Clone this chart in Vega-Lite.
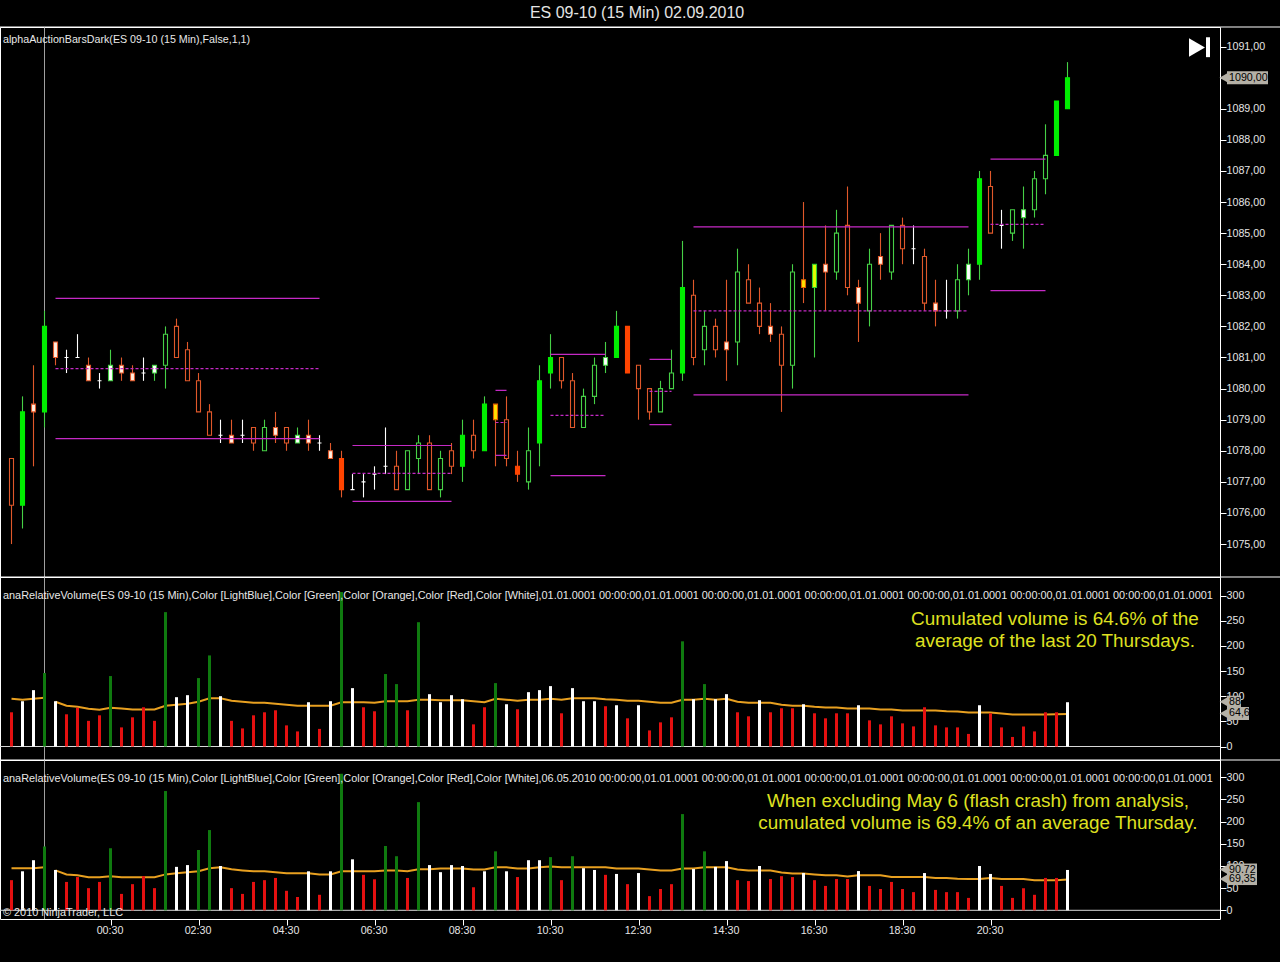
{"$schema":"https://vega.github.io/schema/vega-lite/v6.json","background":"#000000","padding":{"left":-1,"top":5,"right":0,"bottom":26},"title":{"text":"ES 09-10 (15 Min)  02.09.2010","color":"#e4e4e4","font":"Liberation Sans","fontSize":16,"fontWeight":"normal","anchor":"middle","offset":5,"dx":-3},"config":{"view":{"stroke":"#ffffff","strokeWidth":1},"axis":{"grid":false,"domain":false,"tickColor":"#ffffff","labelColor":"#e4e4e4","labelFont":"Liberation Sans","labelFontSize":10.7,"tickSize":6,"labelPadding":0}},"resolve":{"scale":{"color":"independent"}},"datasets":{"bars":[
{"t":"2010-09-01T22:15:00","kind":"r","open":1077.75,"high":1077.75,"low":1075,"close":1076.25,"vol1":68,"color1":"red","avg1":95,"vol2":68,"color2":"red","avg2":95,"session":1},
{"t":"2010-09-01T22:30:00","kind":"G","open":1076.25,"high":1079.75,"low":1075.5,"close":1079.25,"vol1":90,"color1":"white","avg1":93,"vol2":88,"color2":"white","avg2":95,"session":1},
{"t":"2010-09-01T22:45:00","kind":"o","open":1079.5,"high":1080.75,"low":1077.5,"close":1079.25,"vol1":112,"color1":"white","avg1":95,"vol2":113,"color2":"white","avg2":95,"session":1},
{"t":"2010-09-01T23:00:00","kind":"G","open":1079.25,"high":1082.5,"low":1078.75,"close":1082,"vol1":146,"color1":"green","avg1":97,"vol2":144,"color2":"green","avg2":97,"session":1},
{"t":"2010-09-01T23:15:00","kind":"o","open":1081.5,"high":1081.5,"low":1080.75,"close":1081,"vol1":90,"color1":"white","avg1":89,"vol2":91,"color2":"white","avg2":90,"session":2},
{"t":"2010-09-01T23:30:00","kind":"d","open":1081,"high":1081.25,"low":1080.5,"close":1081,"vol1":64,"color1":"red","avg1":81,"vol2":64,"color2":"red","avg2":81,"session":2},
{"t":"2010-09-01T23:45:00","kind":"d","open":1081,"high":1081.75,"low":1081,"close":1081,"vol1":77,"color1":"red","avg1":79,"vol2":75,"color2":"red","avg2":79,"session":2},
{"t":"2010-09-02T00:00:00","kind":"o","open":1080.75,"high":1081,"low":1080.25,"close":1080.25,"vol1":51,"color1":"red","avg1":75,"vol2":50,"color2":"red","avg2":74.5,"session":2},
{"t":"2010-09-02T00:15:00","kind":"d","open":1080.25,"high":1080.5,"low":1080,"close":1080.25,"vol1":62,"color1":"red","avg1":73,"vol2":64,"color2":"red","avg2":74.5,"session":2},
{"t":"2010-09-02T00:30:00","kind":"w","open":1080.25,"high":1081.25,"low":1080.25,"close":1080.75,"vol1":140,"color1":"green","avg1":77,"vol2":140,"color2":"green","avg2":77,"session":2},
{"t":"2010-09-02T00:45:00","kind":"o","open":1080.75,"high":1081,"low":1080.25,"close":1080.5,"vol1":38,"color1":"red","avg1":75.5,"vol2":37,"color2":"red","avg2":74.5,"session":2},
{"t":"2010-09-02T01:00:00","kind":"o","open":1080.5,"high":1080.75,"low":1080.25,"close":1080.25,"vol1":58,"color1":"red","avg1":73.5,"vol2":59,"color2":"red","avg2":74.5,"session":2},
{"t":"2010-09-02T01:15:00","kind":"d","open":1080.5,"high":1081,"low":1080.25,"close":1080.5,"vol1":78,"color1":"red","avg1":73.5,"vol2":77,"color2":"red","avg2":74.5,"session":2},
{"t":"2010-09-02T01:30:00","kind":"w","open":1080.5,"high":1080.75,"low":1080.25,"close":1080.75,"vol1":51,"color1":"red","avg1":73.5,"vol2":50,"color2":"red","avg2":74.5,"session":2},
{"t":"2010-09-02T01:45:00","kind":"g","open":1080.75,"high":1082,"low":1080,"close":1081.75,"vol1":267,"color1":"green","avg1":81,"vol2":269,"color2":"green","avg2":81,"session":2},
{"t":"2010-09-02T02:00:00","kind":"r","open":1082,"high":1082.25,"low":1081,"close":1081,"vol1":98,"color1":"white","avg1":83,"vol2":98,"color2":"white","avg2":83.5,"session":2},
{"t":"2010-09-02T02:15:00","kind":"r","open":1081.25,"high":1081.5,"low":1080.25,"close":1080.25,"vol1":102,"color1":"white","avg1":85,"vol2":102,"color2":"white","avg2":86,"session":2},
{"t":"2010-09-02T02:30:00","kind":"r","open":1080.25,"high":1080.5,"low":1079.25,"close":1079.25,"vol1":136,"color1":"green","avg1":89,"vol2":136,"color2":"green","avg2":88,"session":2},
{"t":"2010-09-02T02:45:00","kind":"r","open":1079.25,"high":1079.5,"low":1078.5,"close":1078.5,"vol1":181,"color1":"green","avg1":96,"vol2":181,"color2":"green","avg2":95,"session":2},
{"t":"2010-09-02T03:00:00","kind":"d","open":1078.5,"high":1079,"low":1078.25,"close":1078.5,"vol1":100,"color1":"white","avg1":96,"vol2":100,"color2":"white","avg2":97,"session":2},
{"t":"2010-09-02T03:15:00","kind":"o","open":1078.5,"high":1079,"low":1078.25,"close":1078.25,"vol1":51,"color1":"red","avg1":91,"vol2":50,"color2":"red","avg2":92.5,"session":2},
{"t":"2010-09-02T03:30:00","kind":"d","open":1078.5,"high":1079,"low":1078.25,"close":1078.5,"vol1":36,"color1":"red","avg1":89,"vol2":37,"color2":"red","avg2":90,"session":2},
{"t":"2010-09-02T03:45:00","kind":"r","open":1078.75,"high":1078.75,"low":1078,"close":1078.25,"vol1":62,"color1":"red","avg1":87,"vol2":64,"color2":"red","avg2":88,"session":2},
{"t":"2010-09-02T04:00:00","kind":"g","open":1078,"high":1079,"low":1078,"close":1078.75,"vol1":68,"color1":"red","avg1":87,"vol2":68,"color2":"red","avg2":88,"session":2},
{"t":"2010-09-02T04:15:00","kind":"o","open":1078.75,"high":1079.25,"low":1078.25,"close":1078.5,"vol1":72,"color1":"red","avg1":85,"vol2":73,"color2":"red","avg2":86,"session":2},
{"t":"2010-09-02T04:30:00","kind":"r","open":1078.75,"high":1078.75,"low":1078,"close":1078.25,"vol1":42,"color1":"red","avg1":83,"vol2":44,"color2":"red","avg2":83.5,"session":2},
{"t":"2010-09-02T04:45:00","kind":"w","open":1078.25,"high":1078.75,"low":1078.25,"close":1078.5,"vol1":30,"color1":"red","avg1":81,"vol2":30,"color2":"red","avg2":83.5,"session":2},
{"t":"2010-09-02T05:00:00","kind":"o","open":1078.5,"high":1079,"low":1078,"close":1078.25,"vol1":88,"color1":"white","avg1":81,"vol2":88,"color2":"white","avg2":83.5,"session":2},
{"t":"2010-09-02T05:15:00","kind":"d","open":1078.25,"high":1078.5,"low":1078,"close":1078.25,"vol1":35,"color1":"red","avg1":81,"vol2":35,"color2":"red","avg2":81,"session":2},
{"t":"2010-09-02T05:30:00","kind":"o","open":1078,"high":1078.25,"low":1077.75,"close":1077.75,"vol1":90,"color1":"white","avg1":81,"vol2":88,"color2":"white","avg2":81,"session":2},
{"t":"2010-09-02T05:45:00","kind":"R","open":1077.75,"high":1078,"low":1076.5,"close":1076.75,"vol1":307,"color1":"green","avg1":88,"vol2":308,"color2":"green","avg2":88,"session":2},
{"t":"2010-09-02T06:00:00","kind":"d","open":1076.75,"high":1077.25,"low":1076.75,"close":1076.75,"vol1":116,"color1":"white","avg1":88,"vol2":115,"color2":"white","avg2":88,"session":2},
{"t":"2010-09-02T06:15:00","kind":"d","open":1077,"high":1077.25,"low":1076.5,"close":1077,"vol1":78,"color1":"red","avg1":88,"vol2":80,"color2":"red","avg2":88,"session":2},
{"t":"2010-09-02T06:30:00","kind":"d","open":1077.25,"high":1077.5,"low":1076.75,"close":1077.25,"vol1":70,"color1":"red","avg1":87,"vol2":70,"color2":"red","avg2":88,"session":2},
{"t":"2010-09-02T06:45:00","kind":"d","open":1077.5,"high":1078.75,"low":1077.25,"close":1077.5,"vol1":144,"color1":"green","avg1":90,"vol2":145,"color2":"green","avg2":90,"session":2},
{"t":"2010-09-02T07:00:00","kind":"r","open":1077.5,"high":1078,"low":1076.75,"close":1076.75,"vol1":124,"color1":"green","avg1":90,"vol2":122,"color2":"green","avg2":90,"session":2},
{"t":"2010-09-02T07:15:00","kind":"g","open":1076.75,"high":1078,"low":1076.75,"close":1078,"vol1":72,"color1":"red","avg1":90,"vol2":73,"color2":"red","avg2":88,"session":2},
{"t":"2010-09-02T07:30:00","kind":"g","open":1077.75,"high":1078.5,"low":1077.25,"close":1078.25,"vol1":247,"color1":"green","avg1":93,"vol2":244,"color2":"green","avg2":92.5,"session":2},
{"t":"2010-09-02T07:45:00","kind":"r","open":1078.25,"high":1078.5,"low":1076.75,"close":1076.75,"vol1":104,"color1":"white","avg1":93,"vol2":102,"color2":"white","avg2":92.5,"session":2},
{"t":"2010-09-02T08:00:00","kind":"g","open":1076.75,"high":1078,"low":1076.5,"close":1077.75,"vol1":88,"color1":"white","avg1":92,"vol2":86,"color2":"white","avg2":94.5,"session":2},
{"t":"2010-09-02T08:15:00","kind":"r","open":1078,"high":1078.25,"low":1077.25,"close":1077.5,"vol1":102,"color1":"white","avg1":92,"vol2":102,"color2":"white","avg2":94.5,"session":2},
{"t":"2010-09-02T08:30:00","kind":"G","open":1077.5,"high":1079,"low":1077,"close":1078.5,"vol1":94,"color1":"white","avg1":92,"vol2":100,"color2":"white","avg2":94.5,"session":2},
{"t":"2010-09-02T08:45:00","kind":"r","open":1078.5,"high":1079,"low":1077.75,"close":1078,"vol1":44,"color1":"red","avg1":90,"vol2":52,"color2":"red","avg2":92,"session":2},
{"t":"2010-09-02T09:00:00","kind":"G","open":1078,"high":1079.75,"low":1078,"close":1079.5,"vol1":78,"color1":"red","avg1":88,"vol2":88,"color2":"white","avg2":92,"session":2},
{"t":"2010-09-02T09:15:00","kind":"Y","open":1079.5,"high":1079.5,"low":1077.5,"close":1079,"vol1":126,"color1":"green","avg1":95,"vol2":133,"color2":"green","avg2":97,"session":2},
{"t":"2010-09-02T09:30:00","kind":"r","open":1079,"high":1079.75,"low":1077.5,"close":1077.75,"vol1":84,"color1":"white","avg1":93,"vol2":88,"color2":"white","avg2":97,"session":2},
{"t":"2010-09-02T09:45:00","kind":"R","open":1077.5,"high":1078,"low":1077,"close":1077.25,"vol1":74,"color1":"red","avg1":91,"vol2":75,"color2":"red","avg2":94.5,"session":2},
{"t":"2010-09-02T10:00:00","kind":"g","open":1077,"high":1078.75,"low":1076.75,"close":1078,"vol1":108,"color1":"white","avg1":93,"vol2":113,"color2":"white","avg2":94.5,"session":2},
{"t":"2010-09-02T10:15:00","kind":"G","open":1078.25,"high":1080.75,"low":1077.5,"close":1080.25,"vol1":112,"color1":"white","avg1":93,"vol2":113,"color2":"white","avg2":97,"session":2},
{"t":"2010-09-02T10:30:00","kind":"G","open":1080.5,"high":1081.75,"low":1080,"close":1081,"vol1":120,"color1":"white","avg1":95,"vol2":120,"color2":"green","avg2":99,"session":2},
{"t":"2010-09-02T10:45:00","kind":"r","open":1081,"high":1081,"low":1080,"close":1080.25,"vol1":66,"color1":"red","avg1":93,"vol2":68,"color2":"red","avg2":97,"session":2},
{"t":"2010-09-02T11:00:00","kind":"r","open":1080.25,"high":1080.5,"low":1078.75,"close":1078.75,"vol1":116,"color1":"white","avg1":96,"vol2":122,"color2":"green","avg2":97,"session":2},
{"t":"2010-09-02T11:15:00","kind":"g","open":1078.75,"high":1080,"low":1078.75,"close":1079.75,"vol1":90,"color1":"white","avg1":96,"vol2":95,"color2":"white","avg2":97,"session":2},
{"t":"2010-09-02T11:30:00","kind":"g","open":1079.75,"high":1081,"low":1079.5,"close":1080.75,"vol1":90,"color1":"white","avg1":96,"vol2":91,"color2":"white","avg2":97,"session":2},
{"t":"2010-09-02T11:45:00","kind":"w","open":1080.75,"high":1081.5,"low":1080.5,"close":1081,"vol1":80,"color1":"red","avg1":94,"vol2":80,"color2":"red","avg2":97,"session":2},
{"t":"2010-09-02T12:00:00","kind":"G","open":1081,"high":1082.5,"low":1081,"close":1082,"vol1":82,"color1":"white","avg1":93,"vol2":82,"color2":"white","avg2":94.5,"session":2},
{"t":"2010-09-02T12:15:00","kind":"R","open":1082,"high":1082,"low":1080.5,"close":1080.5,"vol1":56,"color1":"red","avg1":91,"vol2":59,"color2":"red","avg2":94.5,"session":2},
{"t":"2010-09-02T12:30:00","kind":"r","open":1080.75,"high":1080.75,"low":1079,"close":1080,"vol1":82,"color1":"white","avg1":91,"vol2":84,"color2":"white","avg2":94.5,"session":2},
{"t":"2010-09-02T12:45:00","kind":"r","open":1080,"high":1080,"low":1079,"close":1079.25,"vol1":32,"color1":"red","avg1":89,"vol2":32,"color2":"red","avg2":92,"session":2},
{"t":"2010-09-02T13:00:00","kind":"g","open":1079.25,"high":1080.25,"low":1079.25,"close":1080,"vol1":48,"color1":"red","avg1":87,"vol2":48,"color2":"red","avg2":90,"session":2},
{"t":"2010-09-02T13:15:00","kind":"g","open":1080,"high":1081.25,"low":1080,"close":1080.5,"vol1":58,"color1":"red","avg1":87,"vol2":59,"color2":"red","avg2":90,"session":2},
{"t":"2010-09-02T13:30:00","kind":"G","open":1080.5,"high":1084.75,"low":1080.25,"close":1083.25,"vol1":209,"color1":"green","avg1":93,"vol2":217,"color2":"green","avg2":94.5,"session":2},
{"t":"2010-09-02T13:45:00","kind":"r","open":1083,"high":1083.5,"low":1080.75,"close":1081,"vol1":94,"color1":"white","avg1":93,"vol2":93,"color2":"white","avg2":94.5,"session":2},
{"t":"2010-09-02T14:00:00","kind":"g","open":1081.25,"high":1082.5,"low":1080.75,"close":1082,"vol1":124,"color1":"green","avg1":95,"vol2":133,"color2":"green","avg2":97,"session":2},
{"t":"2010-09-02T14:15:00","kind":"r","open":1082,"high":1082.25,"low":1081,"close":1081.25,"vol1":94,"color1":"white","avg1":93,"vol2":98,"color2":"white","avg2":97,"session":2},
{"t":"2010-09-02T14:30:00","kind":"o","open":1081.5,"high":1083.5,"low":1080.25,"close":1081.25,"vol1":104,"color1":"white","avg1":95,"vol2":111,"color2":"white","avg2":97,"session":2},
{"t":"2010-09-02T14:45:00","kind":"g","open":1081.5,"high":1084.5,"low":1080.75,"close":1083.75,"vol1":68,"color1":"red","avg1":89,"vol2":68,"color2":"red","avg2":92,"session":2},
{"t":"2010-09-02T15:00:00","kind":"r","open":1083.5,"high":1084,"low":1082.75,"close":1082.75,"vol1":60,"color1":"red","avg1":87,"vol2":66,"color2":"red","avg2":90,"session":2},
{"t":"2010-09-02T15:15:00","kind":"r","open":1082.75,"high":1083.25,"low":1081.75,"close":1082,"vol1":92,"color1":"white","avg1":87,"vol2":100,"color2":"white","avg2":90,"session":2},
{"t":"2010-09-02T15:30:00","kind":"o","open":1082,"high":1082.75,"low":1081.5,"close":1081.75,"vol1":68,"color1":"red","avg1":87,"vol2":70.5,"color2":"red","avg2":90,"session":2},
{"t":"2010-09-02T15:45:00","kind":"r","open":1081.75,"high":1082,"low":1079.25,"close":1080.75,"vol1":76,"color1":"red","avg1":83,"vol2":77,"color2":"red","avg2":85.5,"session":2},
{"t":"2010-09-02T16:00:00","kind":"g","open":1080.75,"high":1084,"low":1080,"close":1083.75,"vol1":76,"color1":"red","avg1":81,"vol2":75,"color2":"red","avg2":83,"session":2},
{"t":"2010-09-02T16:15:00","kind":"Y","open":1083.5,"high":1086,"low":1082.75,"close":1083.25,"vol1":84,"color1":"white","avg1":81,"vol2":84,"color2":"white","avg2":83,"session":2},
{"t":"2010-09-02T16:30:00","kind":"L","open":1083.25,"high":1084,"low":1081,"close":1084,"vol1":66,"color1":"red","avg1":79,"vol2":68,"color2":"red","avg2":81,"session":2},
{"t":"2010-09-02T16:45:00","kind":"o","open":1084,"high":1085.25,"low":1082.5,"close":1083.75,"vol1":56,"color1":"red","avg1":77.5,"vol2":55,"color2":"red","avg2":79,"session":2},
{"t":"2010-09-02T17:00:00","kind":"g","open":1083.75,"high":1085.75,"low":1083.5,"close":1085,"vol1":66,"color1":"red","avg1":77.5,"vol2":70.5,"color2":"red","avg2":79,"session":2},
{"t":"2010-09-02T17:15:00","kind":"r","open":1085.25,"high":1086.5,"low":1083,"close":1083.25,"vol1":66,"color1":"red","avg1":75.5,"vol2":70.5,"color2":"red","avg2":76.5,"session":2},
{"t":"2010-09-02T17:30:00","kind":"o","open":1083.25,"high":1083.5,"low":1081.5,"close":1082.75,"vol1":82,"color1":"white","avg1":75.5,"vol2":88.5,"color2":"white","avg2":79,"session":2},
{"t":"2010-09-02T17:45:00","kind":"g","open":1082.5,"high":1084.5,"low":1082,"close":1084,"vol1":52,"color1":"red","avg1":75.5,"vol2":55,"color2":"red","avg2":79,"session":2},
{"t":"2010-09-02T18:00:00","kind":"o","open":1084.25,"high":1085,"low":1083.5,"close":1084,"vol1":44,"color1":"red","avg1":73.5,"vol2":48,"color2":"red","avg2":79,"session":2},
{"t":"2010-09-02T18:15:00","kind":"g","open":1083.75,"high":1085.25,"low":1083.5,"close":1085.25,"vol1":60,"color1":"red","avg1":73.5,"vol2":64,"color2":"red","avg2":75,"session":2},
{"t":"2010-09-02T18:30:00","kind":"r","open":1085.25,"high":1085.5,"low":1084,"close":1084.5,"vol1":46,"color1":"red","avg1":71.5,"vol2":48,"color2":"red","avg2":75,"session":2},
{"t":"2010-09-02T18:45:00","kind":"d","open":1084.5,"high":1085.25,"low":1084,"close":1084.5,"vol1":40,"color1":"red","avg1":71.5,"vol2":41,"color2":"red","avg2":75,"session":2},
{"t":"2010-09-02T19:00:00","kind":"r","open":1084.25,"high":1084.5,"low":1082.5,"close":1082.75,"vol1":78,"color1":"red","avg1":71.5,"vol2":84,"color2":"white","avg2":75,"session":2},
{"t":"2010-09-02T19:15:00","kind":"o","open":1082.75,"high":1083.5,"low":1082,"close":1082.5,"vol1":42,"color1":"red","avg1":71.5,"vol2":46,"color2":"red","avg2":73,"session":2},
{"t":"2010-09-02T19:30:00","kind":"d","open":1082.5,"high":1083.5,"low":1082.25,"close":1082.5,"vol1":38,"color1":"red","avg1":70,"vol2":41,"color2":"red","avg2":73,"session":2},
{"t":"2010-09-02T19:45:00","kind":"g","open":1082.5,"high":1084,"low":1082.25,"close":1083.5,"vol1":38,"color1":"red","avg1":69.5,"vol2":41,"color2":"red","avg2":71,"session":2},
{"t":"2010-09-02T20:00:00","kind":"w","open":1083.5,"high":1084.5,"low":1083,"close":1084,"vol1":25,"color1":"red","avg1":67.5,"vol2":28,"color2":"red","avg2":70.5,"session":2},
{"t":"2010-09-02T20:15:00","kind":"G","open":1084,"high":1087,"low":1083.5,"close":1086.75,"vol1":82,"color1":"white","avg1":67.5,"vol2":100,"color2":"white","avg2":70.5,"session":2},
{"t":"2010-09-02T20:30:00","kind":"r","open":1086.5,"high":1087,"low":1085,"close":1085,"vol1":66,"color1":"red","avg1":67.5,"vol2":82,"color2":"white","avg2":73,"session":2},
{"t":"2010-09-02T20:45:00","kind":"d","open":1085.25,"high":1085.75,"low":1084.5,"close":1085.25,"vol1":38,"color1":"red","avg1":65.5,"vol2":55,"color2":"red","avg2":70.5,"session":2},
{"t":"2010-09-02T21:00:00","kind":"g","open":1085,"high":1085.75,"low":1084.75,"close":1085.75,"vol1":19,"color1":"red","avg1":63.5,"vol2":28,"color2":"red","avg2":70.5,"session":2},
{"t":"2010-09-02T21:15:00","kind":"w","open":1085.5,"high":1086.5,"low":1084.5,"close":1085.75,"vol1":40,"color1":"red","avg1":63.5,"vol2":50,"color2":"red","avg2":70.5,"session":2},
{"t":"2010-09-02T21:30:00","kind":"g","open":1085.75,"high":1087,"low":1085.5,"close":1086.75,"vol1":30,"color1":"red","avg1":63.5,"vol2":35,"color2":"red","avg2":68,"session":2},
{"t":"2010-09-02T21:45:00","kind":"g","open":1086.75,"high":1088.5,"low":1086.25,"close":1087.5,"vol1":68,"color1":"red","avg1":63.5,"vol2":73,"color2":"red","avg2":68,"session":2},
{"t":"2010-09-02T22:00:00","kind":"G","open":1087.5,"high":1089.25,"low":1087.5,"close":1089.25,"vol1":68,"color1":"red","avg1":64,"vol2":73,"color2":"red","avg2":68,"session":2},
{"t":"2010-09-02T22:15:00","kind":"G","open":1089,"high":1090.5,"low":1089,"close":1090,"vol1":88,"color1":"white","avg1":64.6,"vol2":91,"color2":"white","avg2":69.35,"session":2}
],"levels":[
{"start":"2010-09-01T23:15:00","end":"2010-09-02T05:15:00","price":1082.9,"level":"edge"},
{"start":"2010-09-01T23:15:00","end":"2010-09-02T05:15:00","price":1080.64,"level":"mid"},
{"start":"2010-09-01T23:15:00","end":"2010-09-02T05:15:00","price":1078.39,"level":"edge"},
{"start":"2010-09-02T06:00:00","end":"2010-09-02T08:15:00","price":1078.17,"level":"edge"},
{"start":"2010-09-02T06:00:00","end":"2010-09-02T08:15:00","price":1077.27,"level":"mid"},
{"start":"2010-09-02T06:00:00","end":"2010-09-02T08:15:00","price":1076.37,"level":"edge"},
{"start":"2010-09-02T09:15:00","end":"2010-09-02T09:30:00","price":1079.94,"level":"edge"},
{"start":"2010-09-02T09:15:00","end":"2010-09-02T09:30:00","price":1078.91,"level":"mid"},
{"start":"2010-09-02T09:15:00","end":"2010-09-02T09:30:00","price":1077.85,"level":"edge"},
{"start":"2010-09-02T10:30:00","end":"2010-09-02T11:45:00","price":1081.1,"level":"edge"},
{"start":"2010-09-02T10:30:00","end":"2010-09-02T11:45:00","price":1079.14,"level":"mid"},
{"start":"2010-09-02T10:30:00","end":"2010-09-02T11:45:00","price":1077.2,"level":"edge"},
{"start":"2010-09-02T12:45:00","end":"2010-09-02T13:15:00","price":1080.94,"level":"edge"},
{"start":"2010-09-02T12:45:00","end":"2010-09-02T13:15:00","price":1079.91,"level":"mid"},
{"start":"2010-09-02T12:45:00","end":"2010-09-02T13:15:00","price":1078.84,"level":"edge"},
{"start":"2010-09-02T13:45:00","end":"2010-09-02T20:00:00","price":1085.2,"level":"edge"},
{"start":"2010-09-02T13:45:00","end":"2010-09-02T20:00:00","price":1082.5,"level":"mid"},
{"start":"2010-09-02T13:45:00","end":"2010-09-02T20:00:00","price":1079.8,"level":"edge"},
{"start":"2010-09-02T20:30:00","end":"2010-09-02T21:45:00","price":1087.38,"level":"edge"},
{"start":"2010-09-02T20:30:00","end":"2010-09-02T21:45:00","price":1085.28,"level":"mid"},
{"start":"2010-09-02T20:30:00","end":"2010-09-02T21:45:00","price":1083.15,"level":"edge"}
],"cursor":[{"t":"2010-09-01T23:00:00"}]},
"spacing":0,"bounds":"flush","vconcat":[
{"width":1220,"height":550,"layer":[
{"data":{"name":"cursor"},"mark":{"type":"rule","color":"#a0a0a0"},"encoding":{"x":{"field":"t","type":"temporal","axis":null,"scale":{"domain":["2010-09-01T21:59:19","2010-09-03T01:42:57"],"nice":false,"padding":0}}}},
{"data":{"values":[{"a":"2010-09-01T21:59:19","b":"2010-09-03T03:05:00","v":1091.63}]},"mark":{"type":"rule","color":"#ffffff"},"encoding":{"x":{"field":"a","type":"temporal","axis":null},"x2":{"field":"b"},"y":{"field":"v","type":"quantitative","axis":{"orient":"right","title":null,"labelOverlap":false,"tickCount":20,"values":[1075,1076,1077,1078,1079,1080,1081,1082,1083,1084,1085,1086,1087,1088,1089,1090,1091],"labelExpr":"replace(format(datum.value,'.2f'),'.',',')"},"scale":{"domain":[1073.94,1091.63],"nice":false,"zero":false}}}},
{"data":{"name":"bars"},"mark":{"type":"rule","strokeWidth":1.1},"encoding":{"x":{"field":"t","type":"temporal","axis":null},"y":{"field":"low","type":"quantitative"},"y2":{"field":"high"},"color":{"field":"kind","type":"nominal","legend":null,"scale":{"domain":["G","g","w","R","r","o","Y","L","d"],"range":["#46d046","#46d046","#46d046","#e0582a","#e0582a","#e0582a","#e0582a","#46d046","#ffffff"]}}}},
{"data":{"name":"bars"},"mark":{"type":"bar","size":4,"strokeWidth":1.1},"encoding":{"x":{"field":"t","type":"temporal","axis":null},"y":{"field":"open","type":"quantitative"},"y2":{"field":"close"},"fill":{"field":"kind","type":"nominal","legend":null,"scale":{"domain":["G","g","w","R","r","o","Y","L","d"],"range":["#00ee00","#000000","#ffffff","#ff4500","#000000","#fff0e0","#ffe000","#e0ff00","#ffffff"]}},"stroke":{"field":"kind","type":"nominal","legend":null,"scale":{"domain":["G","g","w","R","r","o","Y","L","d"],"range":["#00ee00","#46d046","#46d046","#ff4500","#e0582a","#e0582a","#e06000","#30d030","#ffffff"]}}}},
{"data":{"name":"levels"},"mark":{"type":"rule","color":"#c52ac5","strokeWidth":1.2},"encoding":{"x":{"field":"start","type":"temporal","axis":null},"x2":{"field":"end"},"y":{"field":"price","type":"quantitative"},"strokeDash":{"field":"level","type":"nominal","legend":null,"scale":{"domain":["edge","mid"],"range":[[1,0],[3,2]]}}}},
{"data":{"values":[{"t":"2010-09-01T22:03:24","v":1091.2,"label":"alphaAuctionBarsDark(ES 09-10 (15 Min),False,1,1)"}]},"mark":{"type":"text","align":"left","baseline":"middle","font":"Liberation Sans","fontSize":10.7,"color":"#e8e8e8"},"encoding":{"x":{"field":"t","type":"temporal","axis":null},"y":{"field":"v","type":"quantitative"},"text":{"field":"label"}}},
{"data":{"values":[{"a":"2010-09-03T01:52:30","b":"2010-09-03T02:48:24","tip":"2010-09-03T01:48:26","v":1090,"label":"1090,00"}]},"layer":[
{"mark":{"type":"rule","color":"#b4b0a6","strokeWidth":13},"encoding":{"x":{"field":"a","type":"temporal","axis":null},"x2":{"field":"b"},"y":{"field":"v","type":"quantitative"}}},
{"mark":{"type":"point","shape":"triangle-left","filled":true,"size":110,"opacity":1,"color":"#b4b0a6"},"encoding":{"x":{"field":"tip","type":"temporal","axis":null},"y":{"field":"v","type":"quantitative"}}},
{"mark":{"type":"text","align":"left","dx":2,"baseline":"middle","font":"Liberation Sans","fontSize":10.7,"color":"#000000"},"encoding":{"x":{"field":"a","type":"temporal","axis":null},"y":{"field":"v","type":"quantitative"},"text":{"field":"label"}}}]},
{"data":{"values":[{"t":"2010-09-03T01:11:33","v":1090.97}]},"mark":{"type":"point","shape":"triangle-right","filled":true,"size":340,"opacity":1,"color":"#ffffff"},"encoding":{"x":{"field":"t","type":"temporal","axis":null},"y":{"field":"v","type":"quantitative"}}},
{"data":{"values":[{"t":"2010-09-03T01:26:36","lo":1090.66,"hi":1091.3}]},"mark":{"type":"rule","color":"#ffffff","strokeWidth":4},"encoding":{"x":{"field":"t","type":"temporal","axis":null},"y":{"field":"lo","type":"quantitative"},"y2":{"field":"hi"}}}
]},
{"width":1220,"height":183,"layer":[
{"data":{"name":"cursor"},"mark":{"type":"rule","color":"#a0a0a0"},"encoding":{"x":{"field":"t","type":"temporal","axis":null,"scale":{"domain":["2010-09-01T21:59:19","2010-09-03T01:42:57"],"nice":false,"padding":0}}}},
{"data":{"values":[{"a":"2010-09-01T21:59:19","b":"2010-09-03T03:05:00","v":336.8}]},"mark":{"type":"rule","color":"#ffffff"},"encoding":{"x":{"field":"a","type":"temporal","axis":null},"x2":{"field":"b"},"y":{"field":"v","type":"quantitative","axis":{"orient":"right","title":null,"labelOverlap":false,"tickCount":10,"values":[0,50,100,150,200,250,300]},"scale":{"domain":[-26.8,336.8],"nice":false}}}},
{"data":{"values":[{"a":"2010-09-01T21:59:19","b":"2010-09-03T01:42:57","v":0}]},"mark":{"type":"rule","color":"#d8d8d8"},"encoding":{"x":{"field":"a","type":"temporal","axis":null},"x2":{"field":"b"},"y":{"field":"v","type":"quantitative"}}},
{"data":{"name":"bars"},"mark":{"type":"line","color":"#e8a020","strokeWidth":2},"encoding":{"x":{"field":"t","type":"temporal","axis":null},"y":{"field":"avg1","type":"quantitative"},"detail":{"field":"session"}}},
{"data":{"name":"bars"},"mark":{"type":"bar","size":3},"encoding":{"x":{"field":"t","type":"temporal","axis":null},"y":{"field":"vol1","type":"quantitative"},"color":{"field":"color1","type":"nominal","legend":null,"scale":{"domain":["red","white","green"],"range":["#e41010","#ffffff","#0f7a0f"]}}}},
{"data":{"values":[{"t":"2010-09-01T22:03:24","v":300,"label":"anaRelativeVolume(ES 09-10 (15 Min),Color [LightBlue],Color [Green],Color [Orange],Color [Red],Color [White],01.01.0001 00:00:00,01.01.0001 00:00:00,01.01.0001 00:00:00,01.01.0001 00:00:00,01.01.0001 00:00:00,01.01.0001 00:00:00,01.01.0001"}]},"mark":{"type":"text","align":"left","baseline":"middle","font":"Liberation Sans","fontSize":10.88,"color":"#e8e8e8"},"encoding":{"x":{"field":"t","type":"temporal","axis":null},"y":{"field":"v","type":"quantitative"},"text":{"field":"label"}}},
{"data":{"values":[{"t":"2010-09-02T21:57:55","v":253,"label":"Cumulated volume is 64.6% of the"},{"t":"2010-09-02T21:57:55","v":209.6,"label":"average of the last 20 Thursdays."}]},"mark":{"type":"text","align":"center","baseline":"middle","font":"Liberation Sans","fontSize":18.9,"color":"#dfe020"},"encoding":{"x":{"field":"t","type":"temporal","axis":null},"y":{"field":"v","type":"quantitative"},"text":{"field":"label"}}},
{"data":{"values":[{"a":"2010-09-03T01:52:30","b":"2010-09-03T02:11:36","tip":"2010-09-03T01:48:26","v":89,"label":"88"}]},"layer":[
{"mark":{"type":"rule","color":"#b4b0a6","strokeWidth":12},"encoding":{"x":{"field":"a","type":"temporal","axis":null},"x2":{"field":"b"},"y":{"field":"v","type":"quantitative"}}},
{"mark":{"type":"point","shape":"triangle-left","filled":true,"size":100,"opacity":1,"color":"#b4b0a6"},"encoding":{"x":{"field":"tip","type":"temporal","axis":null},"y":{"field":"v","type":"quantitative"}}},
{"mark":{"type":"text","align":"left","dx":2,"baseline":"middle","font":"Liberation Sans","fontSize":10.7,"color":"#000000"},"encoding":{"x":{"field":"a","type":"temporal","axis":null},"y":{"field":"v","type":"quantitative"},"text":{"field":"label"}}}]},
{"data":{"values":[{"a":"2010-09-03T01:52:30","b":"2010-09-03T02:22:30","tip":"2010-09-03T01:48:26","v":65.6,"label":"64,6"}]},"layer":[
{"mark":{"type":"rule","color":"#b4b0a6","strokeWidth":13},"encoding":{"x":{"field":"a","type":"temporal","axis":null},"x2":{"field":"b"},"y":{"field":"v","type":"quantitative"}}},
{"mark":{"type":"point","shape":"triangle-left","filled":true,"size":100,"opacity":1,"color":"#b4b0a6"},"encoding":{"x":{"field":"tip","type":"temporal","axis":null},"y":{"field":"v","type":"quantitative"}}},
{"mark":{"type":"text","align":"left","dx":2,"baseline":"middle","font":"Liberation Sans","fontSize":10.7,"color":"#000000"},"encoding":{"x":{"field":"a","type":"temporal","axis":null},"y":{"field":"v","type":"quantitative"},"text":{"field":"label"}}}]}
]},
{"width":1220,"height":159,"layer":[
{"data":{"name":"cursor"},"mark":{"type":"rule","color":"#a0a0a0"},"encoding":{"x":{"field":"t","type":"temporal","scale":{"domain":["2010-09-01T21:59:19","2010-09-03T01:42:57"],"nice":false,"padding":0}}}},
{"data":{"values":[{"a":"2010-09-01T21:59:19","b":"2010-09-03T03:05:00","v":339}]},"mark":{"type":"rule","color":"#ffffff"},"encoding":{"x":{"field":"a","type":"temporal","axis":{"title":null,"format":"%H:%M","labelOffset":-1,"values":[{"year":2010,"month":9,"date":2,"hours":0,"minutes":30},{"year":2010,"month":9,"date":2,"hours":2,"minutes":30},{"year":2010,"month":9,"date":2,"hours":4,"minutes":30},{"year":2010,"month":9,"date":2,"hours":6,"minutes":30},{"year":2010,"month":9,"date":2,"hours":8,"minutes":30},{"year":2010,"month":9,"date":2,"hours":10,"minutes":30},{"year":2010,"month":9,"date":2,"hours":12,"minutes":30},{"year":2010,"month":9,"date":2,"hours":14,"minutes":30},{"year":2010,"month":9,"date":2,"hours":16,"minutes":30},{"year":2010,"month":9,"date":2,"hours":18,"minutes":30},{"year":2010,"month":9,"date":2,"hours":20,"minutes":30}]}},"x2":{"field":"b"},"y":{"field":"v","type":"quantitative","axis":{"orient":"right","title":null,"labelOverlap":false,"tickCount":10,"values":[0,50,100,150,200,250,300]},"scale":{"domain":[-19.6,339],"nice":false}}}},
{"data":{"values":[{"a":"2010-09-01T21:59:19","b":"2010-09-03T01:42:57","v":0}]},"mark":{"type":"rule","color":"#d8d8d8"},"encoding":{"x":{"field":"a","type":"temporal"},"x2":{"field":"b"},"y":{"field":"v","type":"quantitative"}}},
{"data":{"name":"bars"},"mark":{"type":"line","color":"#e8a020","strokeWidth":2},"encoding":{"x":{"field":"t","type":"temporal"},"y":{"field":"avg2","type":"quantitative"},"detail":{"field":"session"}}},
{"data":{"name":"bars"},"mark":{"type":"bar","size":3},"encoding":{"x":{"field":"t","type":"temporal"},"y":{"field":"vol2","type":"quantitative"},"color":{"field":"color2","type":"nominal","legend":null,"scale":{"domain":["red","white","green"],"range":["#e41010","#ffffff","#0f7a0f"]}}}},
{"data":{"values":[{"t":"2010-09-01T22:03:24","v":297,"label":"anaRelativeVolume(ES 09-10 (15 Min),Color [LightBlue],Color [Green],Color [Orange],Color [Red],Color [White],06.05.2010 00:00:00,01.01.0001 00:00:00,01.01.0001 00:00:00,01.01.0001 00:00:00,01.01.0001 00:00:00,01.01.0001 00:00:00,01.01.0001"},{"t":"2010-09-01T22:03:24","v":-5,"label":"© 2010 NinjaTrader, LLC"}]},"mark":{"type":"text","align":"left","baseline":"middle","font":"Liberation Sans","fontSize":10.88,"color":"#e8e8e8"},"encoding":{"x":{"field":"t","type":"temporal"},"y":{"field":"v","type":"quantitative"},"text":{"field":"label"}}},
{"data":{"values":[{"t":"2010-09-02T20:12:55","v":246.7,"label":"When excluding May 6 (flash crash) from analysis,"},{"t":"2010-09-02T20:12:55","v":197,"label":"cumulated volume is 69.4% of an average Thursday."}]},"mark":{"type":"text","align":"center","baseline":"middle","font":"Liberation Sans","fontSize":18.9,"color":"#dfe020"},"encoding":{"x":{"field":"t","type":"temporal"},"y":{"field":"v","type":"quantitative"},"text":{"field":"label"}}},
{"data":{"values":[{"a":"2010-09-03T01:52:30","b":"2010-09-03T02:33:24","tip":"2010-09-03T01:48:26","v":92,"label":"90,72"}]},"layer":[
{"mark":{"type":"rule","color":"#b4b0a6","strokeWidth":12},"encoding":{"x":{"field":"a","type":"temporal"},"x2":{"field":"b"},"y":{"field":"v","type":"quantitative"}}},
{"mark":{"type":"point","shape":"triangle-left","filled":true,"size":100,"opacity":1,"color":"#b4b0a6"},"encoding":{"x":{"field":"tip","type":"temporal"},"y":{"field":"v","type":"quantitative"}}},
{"mark":{"type":"text","align":"left","dx":2,"baseline":"middle","font":"Liberation Sans","fontSize":10.7,"color":"#000000"},"encoding":{"x":{"field":"a","type":"temporal"},"y":{"field":"v","type":"quantitative"},"text":{"field":"label"}}}]},
{"data":{"values":[{"a":"2010-09-03T01:52:30","b":"2010-09-03T02:33:24","tip":"2010-09-03T01:48:26","v":70.5,"label":"69,35"}]},"layer":[
{"mark":{"type":"rule","color":"#b4b0a6","strokeWidth":12},"encoding":{"x":{"field":"a","type":"temporal"},"x2":{"field":"b"},"y":{"field":"v","type":"quantitative"}}},
{"mark":{"type":"point","shape":"triangle-left","filled":true,"size":100,"opacity":1,"color":"#b4b0a6"},"encoding":{"x":{"field":"tip","type":"temporal"},"y":{"field":"v","type":"quantitative"}}},
{"mark":{"type":"text","align":"left","dx":2,"baseline":"middle","font":"Liberation Sans","fontSize":10.7,"color":"#000000"},"encoding":{"x":{"field":"a","type":"temporal"},"y":{"field":"v","type":"quantitative"},"text":{"field":"label"}}}]}
]}
]}
